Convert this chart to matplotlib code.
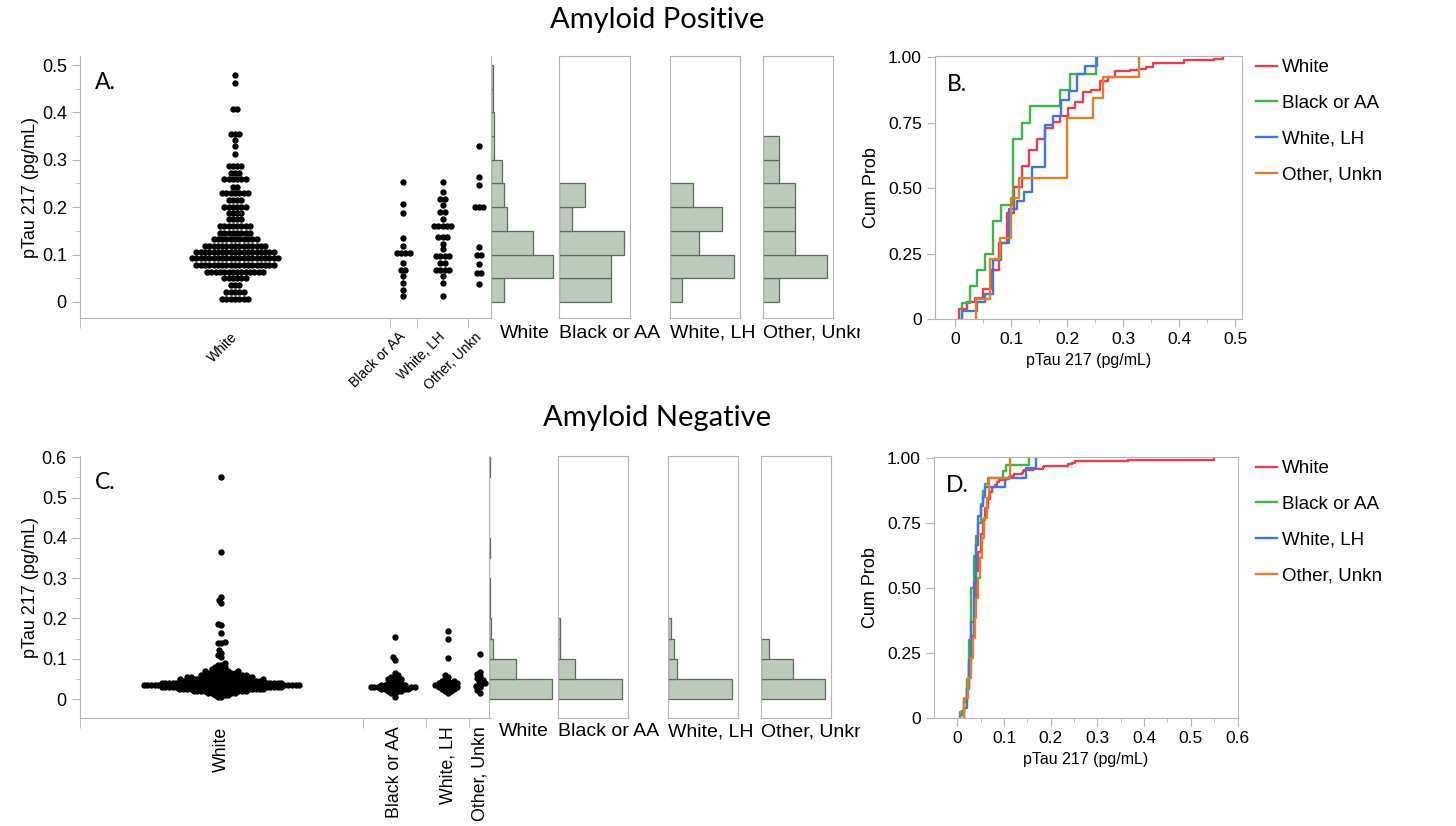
import numpy as np
import matplotlib
matplotlib.use("Agg")
import matplotlib.pyplot as plt
from matplotlib.transforms import Bbox, TransformedBbox

plt.rcParams['font.family'] = ['Liberation Sans', 'DejaVu Sans']

# ---- data ----
groups = ['White', 'Black or AA', 'White, LH', 'Other, Unkn']
colors = ['#e5404d', '#3db54a', '#3f76e4', '#e07f2a']

# amyloid positive: dot-plot rows (value, number of dots)
pos_white_levels = [0.007, 0.021, 0.036, 0.050, 0.064, 0.078, 0.092, 0.106, 0.119, 0.132,
                    0.146, 0.160, 0.174, 0.187, 0.201, 0.215, 0.229, 0.243, 0.259, 0.273,
                    0.286, 0.313, 0.328, 0.341, 0.354, 0.408, 0.462, 0.478]
pos_white_counts = [7, 5, 3, 6, 14, 19, 21, 19, 15, 11, 8, 8, 4, 4, 6, 4, 7, 2, 6, 3,
                    4, 1, 1, 1, 3, 2, 1, 1]
pos_black_levels = [0.013, 0.026, 0.040, 0.054, 0.068, 0.082, 0.104, 0.119, 0.134, 0.188, 0.206, 0.252]
pos_black_counts = [1, 1, 1, 1, 2, 1, 4, 1, 1, 1, 1, 1]
pos_wlh_levels = [0.013, 0.040, 0.054, 0.068, 0.082, 0.097, 0.111, 0.123, 0.137, 0.161,
                  0.175, 0.189, 0.204, 0.218, 0.232, 0.254]
pos_wlh_counts = [1, 1, 1, 4, 2, 4, 1, 1, 3, 5, 1, 2, 1, 2, 1, 1]
pos_other_levels = [0.037, 0.062, 0.081, 0.100, 0.115, 0.200, 0.247, 0.264, 0.328]
pos_other_counts = [1, 2, 1, 2, 1, 3, 1, 1, 1]

# amyloid negative
neg_white_levels = [0.005, 0.010, 0.015, 0.020, 0.025, 0.030, 0.035, 0.040, 0.045,
                    0.050, 0.055, 0.060, 0.065, 0.070, 0.075, 0.080, 0.085, 0.090,
                    0.105, 0.110, 0.115, 0.122, 0.138, 0.140, 0.142, 0.163, 0.183, 0.186,
                    0.238, 0.245, 0.252, 0.365, 0.550]
neg_white_counts = [2, 3, 6, 10, 15, 20, 25, 20, 13,
                    12, 10, 8, 6, 5, 3, 2, 2, 1,
                    1, 1, 1, 1, 1, 1, 1, 1, 1, 1,
                    1, 1, 1, 1, 1]
neg_black_levels = [0.005, 0.015, 0.020, 0.025, 0.030, 0.035, 0.040, 0.045, 0.050, 0.055,
                    0.060, 0.065, 0.097, 0.105, 0.154]
neg_black_counts = [1, 2, 3, 6, 8, 5, 3, 2, 3, 2, 1, 1, 1, 1, 1]
neg_wlh_levels = [0.015, 0.020, 0.025, 0.030, 0.035, 0.040, 0.045, 0.050, 0.055, 0.060,
                  0.103, 0.148, 0.168]
neg_wlh_counts = [1, 2, 3, 4, 4, 4, 3, 1, 1, 1, 1, 1, 1]
neg_other_levels = [0.015, 0.022, 0.030, 0.033, 0.038, 0.040, 0.045, 0.048, 0.052, 0.058,
                    0.063, 0.068, 0.112]
neg_other_counts = [1, 1, 1, 1, 1, 1, 1, 1, 1, 1, 1, 1, 1]

# histogram counts per 0.05 bin (from the side histograms)
pos_hist = [[15, 69, 47, 18, 15, 12, 3, 3, 2, 2],
            [4, 4, 5, 1, 2],
            [2, 11, 5, 9, 4],
            [1, 4, 2, 2, 2, 1, 1]]
neg_hist = [[114, 49, 7, 3, 2, 1, 0, 1, 0, 0, 0, 1],
            [30, 8, 1, 1],
            [21, 3, 2, 1],
            [8, 4, 1]]

pos_data = [np.repeat(pos_white_levels, pos_white_counts),
            np.repeat(pos_black_levels, pos_black_counts),
            np.repeat(pos_wlh_levels, pos_wlh_counts),
            np.repeat(pos_other_levels, pos_other_counts)]
neg_data = [np.repeat(neg_white_levels, neg_white_counts),
            np.repeat(neg_black_levels, neg_black_counts),
            np.repeat(neg_wlh_levels, neg_wlh_counts),
            np.repeat(neg_other_levels, neg_other_counts)]

W, H = 1456, 826
fig = plt.figure(figsize=(W / 100, H / 100), dpi=100)
GRAY = '#b4b4b4'
HIST_FILL = '#bccabb'
HIST_EDGE = '#5f6a5f'


def box(l, t, r, b):
    return fig.add_axes([l / W, 1 - b / H, (r - l) / W, (b - t) / H])


def row_offsets(values, pitch):
    # centred rows of identical values (JMP dot plot)
    out = np.zeros(len(values))
    for v in np.unique(values):
        idx = np.where(values == v)[0]
        k = len(idx)
        out[idx] = (np.arange(k) - (k - 1) / 2) * pitch
    return out


def swarm_offsets(values, ypx, d):
    order = np.argsort(values, kind='stable')
    ys = np.asarray(values, float)[order] * ypx
    xs = np.zeros(len(ys))
    for i, y in enumerate(ys):
        near = [(xs[j], ys[j]) for j in range(i) if abs(y - ys[j]) < d]
        cands = [0.0]
        for xj, yj in near:
            dx = np.sqrt(d * d - (y - yj) ** 2)
            cands += [xj - dx, xj + dx]
        cands.sort(key=abs)
        for c in cands:
            if all((c - xj) ** 2 + (y - yj) ** 2 >= d * d - 1e-6 for xj, yj in near):
                xs[i] = c
                break
    out = np.empty_like(xs)
    out[order] = xs
    return out


def dot_panel(t, b, data, ylim, ymax_tick, swarm, label_rot, label_size, letter):
    ax = box(80, t, 490, b)
    n = [len(g) for g in data]
    edges = np.cumsum([0] + n)
    centers = (edges[:-1] + edges[1:]) / 2
    xpx = 410 / edges[-1]
    ypx = (b - t) / (ylim[1] - ylim[0])
    for g, c in zip(data, centers):
        if swarm:
            off = swarm_offsets(g, ypx, 3.7) / xpx
        else:
            off = row_offsets(g, 4.3) / xpx
        ax.scatter(c + off, g, s=21, color='black', linewidths=0, zorder=3)
    ax.set_xlim(0, edges[-1])
    ax.set_ylim(*ylim)
    yt = np.round(np.arange(0, ymax_tick + 0.001, 0.1), 1)
    ax.set_yticks(yt, ['0'] + ['%.1f' % v for v in yt[1:]], fontsize=13)
    ax.set_yticks(yt[:-1] + 0.05, minor=True)
    ax.set_ylabel('pTau 217 (pg/mL)', fontsize=13, labelpad=2)
    if label_rot == 45:
        ax.set_xticks(centers, groups, rotation=45, ha='right', va='center',
                      rotation_mode='anchor', fontsize=label_size)
        ax.tick_params(axis='x', which='major', length=0, pad=12)
    else:
        ax.set_xticks(centers, groups, rotation=90, fontsize=label_size)
        ax.tick_params(axis='x', which='major', length=0, pad=6)
    ax.set_xticks(edges[:-1], minor=True)
    ax.tick_params(axis='x', which='minor', length=7, color=GRAY)
    ax.tick_params(axis='y', which='major', length=6, color=GRAY)
    ax.tick_params(axis='y', which='minor', length=3, color=GRAY)
    for s in ['top', 'right']:
        ax.spines[s].set_visible(False)
    for s in ['left', 'bottom']:
        ax.spines[s].set_color(GRAY)
    ax.text(0.036, 0.9, letter, transform=ax.transAxes, fontsize=16.5, family='Lato',
            va='center')
    return ax


def hist_panel(l, t, r, b, counts, ylim, label, label_y, full_frame):
    ax = box(l, t, r, b)
    bins = np.arange(len(counts)) * 0.05
    ax.barh(bins, counts, height=0.05, align='edge', color=HIST_FILL,
            edgecolor=HIST_EDGE, linewidth=0.9)
    ax.set_xlim(0, max(counts) / 0.91)
    ax.set_ylim(*ylim)
    ax.set_xticks([])
    ax.set_yticks([])
    for s in ax.spines.values():
        s.set_color(GRAY)
    if not full_frame:
        ax.spines['top'].set_visible(False)
        ax.spines['bottom'].set_visible(False)
    text_w = 14 * 100 / 72 * 0.52 * len(label)
    if text_w < r - l:
        txt = fig.text((l + r) / 2 / W, 1 - label_y / H, label, ha='center', va='center', fontsize=14)
    else:
        txt = fig.text(l / W, 1 - label_y / H, label, ha='left', va='center', fontsize=14)
    txt.set_clip_box(TransformedBbox(Bbox([[0, 0], [860 / W, 1]]), fig.transFigure))
    txt.set_clip_on(True)


def ecdf_panel(l, t, r, b, data, xlim, xmax_tick, letter, legend_top):
    ax = box(l, t, r, b)
    for g, c, name in zip(data, colors, groups):
        xs = np.sort(g)
        ys = np.arange(1, len(xs) + 1) / len(xs)
        ax.step(np.r_[xs[0], xs], np.r_[0, ys], where='post', color=c, lw=1.7, label=name)
    ax.set_xlim(*xlim)
    ax.set_ylim(0, 1.005)
    xt = np.round(np.arange(0, xmax_tick + 0.001, 0.1), 1)
    ax.set_xticks(xt, ['0'] + ['%.1f' % v for v in xt[1:]], fontsize=12.5)
    ax.set_xticks(xt[:-1] + 0.05, minor=True)
    ax.set_yticks([0, 0.25, 0.5, 0.75, 1.0], ['0', '0.25', '0.50', '0.75', '1.00'], fontsize=12.5)
    ax.tick_params(which='major', length=6, color=GRAY)
    ax.tick_params(which='minor', length=3, color=GRAY)
    for s in ax.spines.values():
        s.set_color(GRAY)
    ax.set_xlabel('pTau 217 (pg/mL)', fontsize=11.5, labelpad=4)
    ax.set_ylabel('Cum Prob', fontsize=13, labelpad=6)
    ax.text(0.04, 0.89, letter, transform=ax.transAxes, fontsize=16.5, family='Lato',
            va='center')
    ax.legend(loc='upper left', bbox_to_anchor=(1256 / W, 1 - legend_top / H),
              bbox_transform=fig.transFigure, frameon=False, fontsize=13.5,
              handlelength=1.1, handletextpad=0.3, labelspacing=1.0,
              borderaxespad=0, borderpad=0)


# ---- amyloid positive ----
fig.text(657 / W, 1 - 20 / H, 'Amyloid Positive', ha='center', va='center',
         fontsize=21, family='Lato')
pos_ylim = (-0.034, 0.519)
dot_panel(56, 318, pos_data, pos_ylim, 0.5, False, 45, 10, 'A.')
pos_hist_x = [(491, 559), (559, 630), (670, 740), (763, 833)]
for (l, r), cnt, name, i in zip(pos_hist_x, pos_hist, groups, range(4)):
    hist_panel(l, 56, r, 318, cnt, pos_ylim, name, 333, i > 0)
ecdf_panel(935, 56, 1242, 319, pos_data, (-0.0356, 0.512), 0.5, 'B.', 59)

# ---- amyloid negative ----
fig.text(657 / W, 1 - 418 / H, 'Amyloid Negative', ha='center', va='center',
         fontsize=21, family='Lato')
neg_ylim = (-0.047, 0.603)
dot_panel(456, 718, neg_data, neg_ylim, 0.6, True, 90, 12.8, 'C.')
neg_hist_x = [(489, 558), (558, 628), (668, 738), (761, 831)]
for (l, r), cnt, name, i in zip(neg_hist_x, neg_hist, groups, range(4)):
    hist_panel(l, 456, r, 718, cnt, neg_ylim, name, 732, i > 0)
ecdf_panel(934, 457, 1238, 718, neg_data, (-0.05, 0.601), 0.6, 'D.', 460)

fig.savefig('out.png', dpi=100)
